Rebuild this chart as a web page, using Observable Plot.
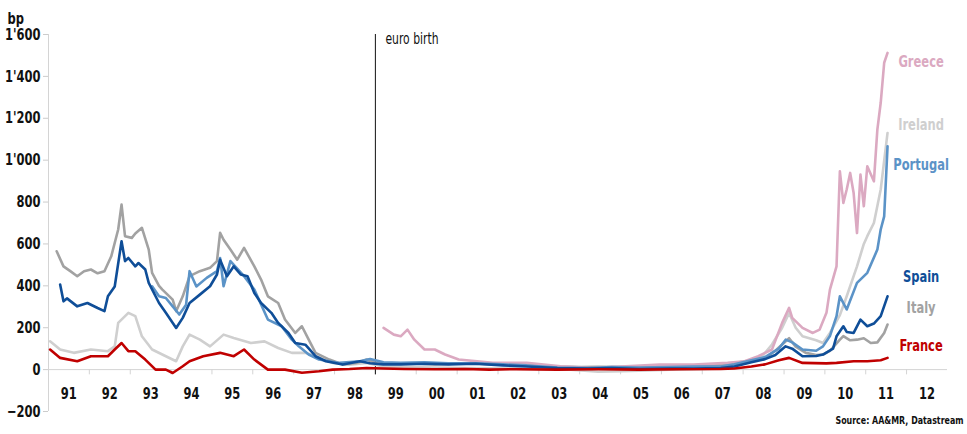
<!DOCTYPE html>
<html>
<head>
<meta charset="utf-8">
<script src="https://cdn.jsdelivr.net/npm/d3@7"></script>
<script src="https://cdn.jsdelivr.net/npm/@observablehq/plot@0.6"></script>
<style>
  html, body { margin: 0; padding: 0; background: #fff; }
</style>
</head>
<body>
<div id="chart"></div>
<script>
// ---- Data (spreads vs Germany, bp) ----
const greece = [
  ["1999-03",199],["1999-06",167],["1999-08",159],["1999-10",191],["1999-12",143],
  ["2000-03",96],["2000-06",96],["2000-09",72],["2001-01",48],["2001-11",32],
  ["2002-09",32],["2003-07",16],["2004-04",8],["2005-02",16],["2005-12",24],
  ["2006-10",24],["2007-08",32],["2008-01",40],["2008-05",64],["2008-09",96],
  ["2008-12",223],["2009-02",295],["2009-03",247],["2009-06",199],["2009-09",175],
  ["2009-11",191],["2010-01",271],["2010-02",382],["2010-04",493],["2010-05",947],
  ["2010-06",796],["2010-07",860],["2010-08",939],["2010-09",843],["2010-10",652],
  ["2010-11",931],["2010-12",780],["2011-01",971],["2011-03",899],["2011-04",1146],
  ["2011-05",1274],["2011-06",1465],["2011-07",1512]
];
const ireland = [
  ["1991-01",135],["1991-04",96],["1991-08",80],["1992-01",96],["1992-06",88],
  ["1992-08",111],["1992-09",223],["1992-12",271],["1993-02",255],["1993-04",159],
  ["1993-07",96],["1993-11",64],["1994-02",40],["1994-04",111],["1994-06",167],
  ["1994-09",143],["1994-12",111],["1995-04",167],["1995-07",151],["1995-12",127],
  ["1996-04",135],["1996-08",103],["1996-12",80],["1997-04",80],["1997-07",64],
  ["1997-12",32],["1998-05",24],["1998-10",32],["1999-03",15],["1999-10",12],
  ["2000-06",10],["2001-03",8],["2001-10",6],["2002-06",5],["2003-03",3],
  ["2003-10",0],["2004-06",-10],["2005-01",-8],["2005-06",-5],["2006-03",0],
  ["2006-10",2],["2007-06",5],["2007-10",15],["2008-03",40],["2008-06",60],
  ["2008-09",120],["2008-12",200],["2009-02",270],["2009-04",200],["2009-06",159],
  ["2009-10",140],["2009-12",127],["2010-02",175],["2010-05",260],["2010-07",350],
  ["2010-10",493],["2010-12",600],["2011-01",637],["2011-03",700],["2011-05",860],
  ["2011-07",1130]
];
const portugal = [
  ["1993-07",398],["1993-09",350],["1993-11",342],["1994-01",302],["1994-03",263],
  ["1994-05",310],["1994-06",470],["1994-08",397],["1994-11",438],["1995-02",470],
  ["1995-03",533],["1995-04",398],["1995-06",518],["1995-10",446],["1996-01",382],
  ["1996-05",239],["1996-09",207],["1996-12",143],["1997-02",111],["1997-05",72],
  ["1997-08",48],["1998-02",32],["1998-08",40],["1998-11",51],["1999-03",35],
  ["1999-08",32],["2000-03",35],["2000-10",30],["2001-06",30],["2002-02",25],
  ["2002-09",20],["2003-06",10],["2004-03",8],["2004-10",12],["2005-06",10],
  ["2006-03",12],["2006-10",15],["2007-06",15],["2007-10",25],["2008-03",45],
  ["2008-07",60],["2008-11",100],["2009-01",143],["2009-03",130],["2009-06",96],
  ["2009-10",90],["2009-12",111],["2010-02",160],["2010-04",255],["2010-05",350],
  ["2010-07",287],["2010-10",414],["2011-01",462],["2011-04",573],["2011-05",669],
  ["2011-06",732],["2011-07",1066]
];
const spain = [
  ["1991-04",406],["1991-05",326],["1991-06",340],["1991-09",302],["1991-12",318],
  ["1992-03",294],["1992-05",279],["1992-06",350],["1992-08",397],["1992-10",613],
  ["1992-11",518],["1992-12",533],["1993-02",493],["1993-03",509],["1993-05",478],
  ["1993-06",414],["1993-09",318],["1993-11",271],["1994-02",199],["1994-04",247],
  ["1994-06",318],["1994-09",358],["1994-12",398],["1995-02",454],["1995-03",525],
  ["1995-05",446],["1995-07",493],["1995-09",454],["1995-11",446],["1996-01",366],
  ["1996-03",318],["1996-06",271],["1996-08",223],["1996-11",175],["1997-01",127],
  ["1997-04",119],["1997-07",64],["1997-10",40],["1998-03",24],["1998-08",40],
  ["1998-11",30],["1999-03",25],["1999-08",25],["2000-03",28],["2000-10",25],
  ["2001-06",28],["2002-02",20],["2002-09",15],["2003-06",8],["2004-03",5],
  ["2004-10",8],["2005-06",3],["2006-03",5],["2006-10",5],["2007-06",8],
  ["2007-10",15],["2008-03",35],["2008-07",50],["2008-10",70],["2009-01",111],
  ["2009-03",100],["2009-06",64],["2009-10",65],["2009-12",72],["2010-03",100],
  ["2010-04",159],["2010-06",207],["2010-07",180],["2010-09",175],["2010-11",239],
  ["2011-01",207],["2011-03",220],["2011-05",255],["2011-07",350]
];
const italy = [
  ["1991-03",565],["1991-05",493],["1991-07",470],["1991-09",446],["1991-11",470],
  ["1992-01",478],["1992-03",460],["1992-05",470],["1992-07",541],["1992-09",669],
  ["1992-10",788],["1992-11",637],["1993-01",629],["1993-02",650],["1993-04",677],
  ["1993-06",573],["1993-07",462],["1993-09",400],["1993-10",382],["1994-01",334],
  ["1994-02",279],["1994-04",350],["1994-06",446],["1994-09",470],["1994-12",486],
  ["1995-02",518],["1995-03",653],["1995-04",620],["1995-06",573],["1995-08",525],
  ["1995-10",581],["1996-01",493],["1996-03",430],["1996-05",350],["1996-08",318],
  ["1996-10",239],["1997-01",175],["1997-03",207],["1997-05",143],["1997-07",80],
  ["1997-11",48],["1998-03",24],["1998-07",32],["1998-10",48],["1999-01",30],
  ["1999-06",28],["2000-01",30],["2000-06",25],["2001-01",30],["2001-06",28],
  ["2002-01",25],["2002-06",22],["2003-01",20],["2003-06",15],["2004-01",12],
  ["2004-06",14],["2005-01",12],["2005-06",15],["2006-01",18],["2006-06",20],
  ["2007-01",18],["2007-06",22],["2007-10",30],["2008-01",40],["2008-04",45],
  ["2008-07",55],["2008-10",90],["2008-12",120],["2009-02",150],["2009-04",110],
  ["2009-07",80],["2009-10",70],["2009-12",72],["2010-02",90],["2010-05",143],
  ["2010-06",160],["2010-08",140],["2010-10",143],["2010-12",150],["2011-02",127],
  ["2011-04",130],["2011-06",175],["2011-07",215]
];
const france = [
  ["1991-01",96],["1991-04",56],["1991-09",40],["1992-01",64],["1992-06",64],
  ["1992-08",96],["1992-10",127],["1992-12",88],["1993-02",88],["1993-05",48],
  ["1993-08",0],["1993-11",0],["1994-01",-16],["1994-04",16],["1994-06",40],
  ["1994-10",64],["1995-03",80],["1995-07",64],["1995-10",96],["1996-01",48],
  ["1996-05",0],["1996-10",0],["1997-03",-15],["1997-08",-8],["1997-12",0],
  ["1998-05",3],["1998-10",8],["1999-03",5],["1999-09",3],["2000-06",2],
  ["2001-03",3],["2001-10",0],["2002-06",2],["2003-06",0],["2004-06",2],
  ["2005-06",0],["2006-06",2],["2007-06",3],["2007-10",5],["2008-03",15],
  ["2008-07",25],["2008-11",45],["2009-02",56],["2009-06",32],["2010-01",30],
  ["2010-04",32],["2010-09",40],["2011-01",40],["2011-05",45],["2011-07",56]
];

const countries = ["Greece","Ireland","Portugal","Spain","Italy","France"];
const colors = ["#dba9c1","#cfcfcf","#5b93c7","#0f4e98","#a2a2a2","#c00000"];
const labelValues = [1471, 1170, 979, 444, 296, 115];

const yTicks = [-200,0,200,400,600,800,1000,1200,1400,1600];
const yearLabels = ["91","92","93","94","95","96","97","98","99","00","01","02","03","04","05","06","07","08","09","10","11","12"];
const yearStarts = [1991,1992,1993,1994,1995,1996,1997,1998,1999,2000,2001,2002,2003,2004,2005,2006,2007,2008,2009,2010,2011,2012,2013];

const euroBirth = "1999-01-01";
const euroText = "euro birth";
const yTitle = "bp";
const source = "Source: AA&MR, Datastream";

// ---- Build tables ----
const parse = s => new Date(s + (s.length === 7 ? "-15" : ""));
const seriesData = {Greece: greece, Ireland: ireland, Portugal: portugal, Spain: spain, Italy: italy, France: france};
const rows = c => seriesData[c].map(([d, v]) => ({country: c, date: parse(d), value: v}));
const colorOf = c => colors[countries.indexOf(c)];

const fmt = d3.formatLocale({decimal: ".", thousands: "'", grouping: [3], currency: ["", ""]}).format(",");
const yearLabelRows = yearLabels.map((t, i) => ({t, date: new Date(Date.UTC(yearStarts[i], 6, 2))}));
const tickRows = yearStarts.slice(0, -1).map(y => new Date(Date.UTC(y, 0, 1)));
const labelRows = countries.map((c, i) => ({c, v: labelValues[i], color: colors[i]}));

const FONT = "'DejaVu Sans Condensed', 'DejaVu Sans', sans-serif";
const drawOrder = ["Ireland", "Italy", "Greece", "Portugal", "Spain", "France"];

const chart = Plot.plot({
  width: 967,
  height: 434,
  marginLeft: 48,
  marginRight: 20,
  marginTop: 34,
  marginBottom: 23,
  style: {fontFamily: FONT, fontSize: "16px", background: "#fff", color: "#111"},
  x: {type: "utc", domain: [new Date(Date.UTC(1991, 0, 1)), new Date(Date.UTC(2013, 0, 1))], axis: null},
  y: {domain: [-200, 1600], axis: null},
  marks: [
    Plot.ruleX([new Date(Date.UTC(1991, 0, 1))], {y1: -200, y2: 1600, stroke: "#d4d4d4"}),
    Plot.axisY({ticks: yTicks, tickFormat: fmt, tickSize: 5, tickPadding: 3, stroke: "#cccccc", fill: "#111", fontWeight: "bold", label: null}),
    Plot.ruleY([0], {stroke: "#d4d4d4"}),
    Plot.ruleX(tickRows, {y1: 0, y2: -25, stroke: "#d4d4d4"}),
    Plot.text(yearLabelRows, {x: "date", y: -115, text: "t", fontWeight: "bold", fill: "#111"}),
    Plot.ruleX([new Date(euroBirth)], {y1: -25, y2: 1600, stroke: "#111", strokeWidth: 1}),
    Plot.text([euroText], {x: new Date("1999-04-01"), y: 1576, textAnchor: "start", fontSize: 15, fill: "#111"}),
    ...drawOrder.map(c => Plot.line(rows(c), {x: "date", y: "value", stroke: colorOf(c), strokeWidth: 2.6, strokeLinejoin: "round"})),
    Plot.text(labelRows, {x: new Date("2012-05-10"), y: "v", text: "c", fill: "color", fontSize: 16, fontWeight: "bold"}),
    Plot.text([yTitle], {frameAnchor: "top-left", dx: -41, dy: -22, textAnchor: "start", fontWeight: "bold", fill: "#111"}),
    Plot.text([source], {frameAnchor: "bottom-right", dx: 16, dy: 12, textAnchor: "end", fontSize: 11, fontWeight: "bold", fill: "#111"})
  ]
});

// Narrow the glyphs (condensed look) around each text's own anchor point.
chart.querySelectorAll("text").forEach(t => {
  const tr = t.getAttribute("transform");
  if (tr) t.setAttribute("transform", `${tr} scale(0.8,1)`);
});
document.getElementById("chart").appendChild(chart);
</script>
</body>
</html>
